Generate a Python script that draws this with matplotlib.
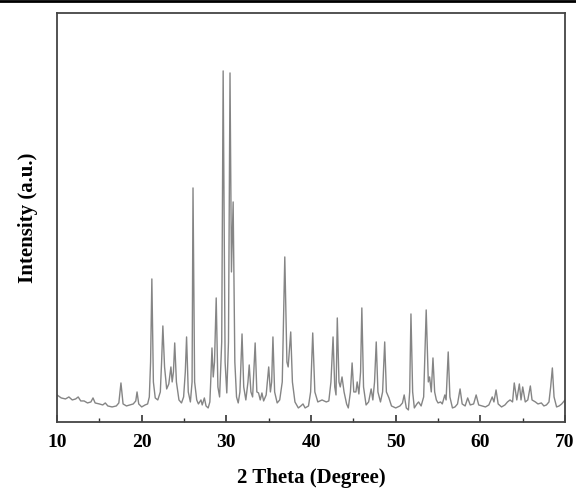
import numpy as np
import matplotlib
matplotlib.use("Agg")
import matplotlib.pyplot as plt
from matplotlib.lines import Line2D

plt.rcParams['font.family'] = ['Liberation Serif', 'DejaVu Serif']
plt.rcParams['font.weight'] = 'bold'

# XRD trace: 2 theta (deg) and intensity (a.u.)
two_theta = [
    10.0, 10.5, 11.0, 11.4, 11.8, 12.2, 12.5, 12.8, 13.2, 13.6, 14.0, 14.25, 14.5,
    15.0, 15.4, 15.7, 16.0, 16.5, 17.0, 17.3, 17.55, 17.8, 18.2, 18.6, 19.0, 19.3,
    19.45, 19.65, 20.0, 20.4, 20.7, 20.9, 21.05, 21.2, 21.38, 21.6, 21.9, 22.2,
    22.35, 22.5, 22.7, 22.95, 23.2, 23.45, 23.6, 23.75, 23.9, 24.1, 24.4, 24.7,
    24.95, 25.15, 25.3, 25.5, 25.75, 25.95, 26.06, 26.25, 26.5, 26.7, 27.0, 27.15,
    27.4, 27.6, 27.85, 28.05, 28.15, 28.3, 28.45, 28.6, 28.8, 29.0, 29.2, 29.45,
    29.62, 29.85, 30.05, 30.25, 30.43, 30.6, 30.8, 31.0, 31.2, 31.4, 31.6, 31.85,
    32.05, 32.3, 32.55, 32.7, 32.9, 33.1, 33.4, 33.6, 33.8, 34.0, 34.2, 34.4,
    34.7, 35.0, 35.2, 35.35, 35.5, 35.7, 36.0, 36.3, 36.6, 36.9, 37.15, 37.3,
    37.6, 37.8, 38.1, 38.5, 38.8, 39.05, 39.3, 39.7, 39.95, 40.2, 40.45, 40.8,
    41.3, 41.8, 42.1, 42.35, 42.6, 42.8, 42.95, 43.1, 43.3, 43.45, 43.66, 43.9,
    44.2, 44.4, 44.65, 44.85, 45.05, 45.3, 45.45, 45.65, 45.85, 46.0, 46.2, 46.5,
    46.8, 47.1, 47.3, 47.5, 47.7, 47.9, 48.2, 48.45, 48.7, 48.9, 49.2, 49.5,
    50.0, 50.5, 50.8, 51.0, 51.25, 51.5, 51.65, 51.8, 52.0, 52.2, 52.5, 52.7,
    53.0, 53.3, 53.6, 53.85, 54.0, 54.2, 54.4, 54.6, 54.8, 55.0, 55.3, 55.5,
    55.8, 55.95, 56.2, 56.4, 56.7, 57.0, 57.3, 57.6, 57.85, 58.2, 58.5, 58.8,
    59.2, 59.5, 59.8, 60.2, 60.6, 61.0, 61.4, 61.6, 61.85, 62.1, 62.5, 62.9,
    63.2, 63.5, 63.8, 64.0, 64.3, 64.6, 64.8, 65.0, 65.3, 65.6, 65.9, 66.1,
    66.5, 66.8, 67.2, 67.5, 67.8, 68.1, 68.3, 68.5, 68.7, 69.0, 69.3, 69.6, 70.0,
]
intensity = [
    27, 24, 23, 25, 22, 23, 25, 21, 21, 19, 20, 24, 19,
    18, 17, 19, 16, 15, 16, 19, 39, 18, 16, 17, 18, 21,
    30, 18, 15, 17, 18, 25, 60, 143, 40, 24, 22, 30,
    60, 96, 55, 33, 38, 55, 40, 50, 79, 40, 22, 19,
    25, 50, 85, 30, 20, 40, 234, 40, 22, 18, 22, 17,
    24, 16, 14, 20, 40, 74, 45, 60, 124, 35, 25, 80,
    351, 60, 29, 80, 349, 150, 220, 60, 25, 19, 30, 88,
    35, 22, 40, 57, 30, 25, 79, 30, 29, 22, 29, 21,
    27, 55, 30, 40, 85, 30, 19, 22, 40, 165, 60, 55,
    90, 40, 20, 14, 16, 18, 14, 16, 30, 89, 30, 20,
    22, 20, 21, 40, 85, 35, 27, 104, 40, 35, 45, 30,
    18, 14, 30, 59, 30, 30, 40, 28, 50, 114, 35, 17,
    20, 33, 22, 40, 80, 30, 20, 30, 80, 30, 24, 16,
    14, 16, 19, 27, 14, 12, 30, 108, 30, 14, 18, 20,
    16, 25, 112, 40, 45, 30, 64, 30, 22, 19, 20, 18,
    27, 22, 70, 25, 14, 15, 18, 33, 18, 16, 24, 17,
    18, 27, 17, 16, 15, 17, 25, 20, 32, 18, 15, 17,
    20, 22, 20, 39, 22, 38, 22, 35, 20, 22, 36, 22,
    20, 18, 19, 16, 17, 20, 35, 54, 25, 15, 16, 18, 22,
]

x_ticks = [10, 20, 30, 40, 50, 60, 70]

fig = plt.figure(figsize=(5.76, 4.97), dpi=100)
ax = fig.add_axes([0.099, 0.151, 0.882, 0.823])

ax.plot(two_theta, intensity, color='#858585', linewidth=1.0)

ax.set_xlim(10, 70)
ax.set_ylim(0, 409)
ax.set_xticks(x_ticks)
ax.set_xticks([15, 25, 35, 45, 55, 65], minor=True)
ax.set_yticks([])
ax.tick_params(axis='x', which='major', direction='in', length=5, width=1.2,
               labelsize=14, pad=9, color='#333333')
ax.tick_params(axis='x', which='minor', direction='in', length=3, width=1.0,
               color='#333333')
for lab in ax.get_xticklabels():
    lab.set_fontweight('bold')

for s in ax.spines.values():
    s.set_linewidth(1.3)
    s.set_color('#444444')

ax.set_xlabel('2 Theta (Degree)', fontsize=15, fontweight='bold', labelpad=12)
ax.set_ylabel('Intensity (a.u.)', fontsize=15, fontweight='bold', labelpad=14)

# thin black rule across the very top of the image
fig.add_artist(Line2D([0, 1], [0.998, 0.998], transform=fig.transFigure,
                      color='black', linewidth=2))

fig.savefig('out.png', dpi=100)
